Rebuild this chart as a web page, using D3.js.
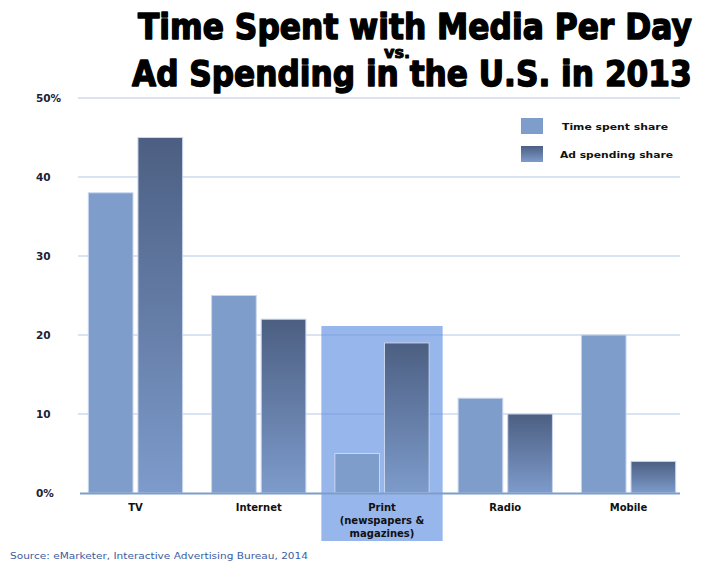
<!DOCTYPE html>
<html>
<head>
<meta charset="utf-8">
<script src="https://cdn.jsdelivr.net/npm/d3@7"></script>
<style>
  html, body { margin: 0; padding: 0; background: #fff; }
  svg { display: block; }
</style>
</head>
<body>
<svg id="chart" width="701" height="562"></svg>
<script>
// Share of daily media time vs. share of ad spending, U.S. 2013 (%)
const categories = ["TV", "Internet", "Print", "Radio", "Mobile"];
const categoryLabels = [["TV"], ["Internet"], ["Print", "(newspapers &", "magazines)"], ["Radio"], ["Mobile"]];
const timeSpentShare = [38, 25, 5, 12, 20];
const adSpendingShare = [45, 22, 19, 10, 4];
const seriesNames = ["Time spent share", "Ad spending share"];
const yTicks = [0, 10, 20, 30, 40, 50];
const yTickLabels = ["0%", "10", "20", "30", "40", "50%"];
const highlighted = "Print";

const svg = d3.select("#chart");
const font = "'DejaVu Sans', Verdana, sans-serif";

const x = d3.scaleBand().domain(categories).range([76, 688]).paddingInner(0.235).paddingOuter(0.1);
const xSeries = d3.scaleBand().domain(seriesNames).range([0, x.bandwidth()]).paddingInner(0.1);
const y = d3.scaleLinear().domain([0, 50]).range([493, 98]);

// gradient for the ad-spending bars
const defs = svg.append("defs");
["adGrad", "adGradLeg"].forEach(id => {
  const g = defs.append("linearGradient").attr("id", id).attr("x1", 0).attr("x2", 0).attr("y1", 0).attr("y2", 1);
  g.append("stop").attr("offset", "0%").attr("stop-color", "#4c5f82");
  g.append("stop").attr("offset", "100%").attr("stop-color", "#7d9bcb");
});

// highlight box behind the print category
const hx = x(highlighted) - x.step() * x.paddingInner() / 2;
svg.append("rect")
  .attr("x", hx + 1).attr("y", 326)
  .attr("width", x.step() - 2).attr("height", 541 - 326)
  .attr("fill", "#96b6ec");

// gridlines
svg.append("g").selectAll("line").data(yTicks.filter(d => d > 0)).join("line")
  .attr("x1", 78).attr("x2", 680)
  .attr("y1", d => y(d)).attr("y2", d => y(d))
  .attr("stroke", "rgba(110,145,205,0.5)").attr("stroke-width", 1.2);

// y tick labels
svg.append("g").selectAll("text").data(yTicks).join("text")
  .attr("x", 36).attr("y", d => y(d) + 4)
  .attr("font-family", font).attr("font-size", 10.5).attr("font-weight", "bold")
  .attr("fill", "#1c2233")
  .text((d, i) => yTickLabels[i]);

// bars
const groups = svg.append("g").selectAll("g").data(categories).join("g")
  .attr("transform", d => `translate(${x(d)},0)`);

groups.append("rect")
  .attr("x", xSeries(seriesNames[0]))
  .attr("y", (d, i) => y(timeSpentShare[i]))
  .attr("width", xSeries.bandwidth())
  .attr("height", (d, i) => y(0) - y(timeSpentShare[i]))
  .attr("fill", "#7f9dcb")
  .attr("stroke", "#c9d6ee").attr("stroke-width", 1);

groups.append("rect")
  .attr("x", xSeries(seriesNames[1]))
  .attr("y", (d, i) => y(adSpendingShare[i]))
  .attr("width", xSeries.bandwidth())
  .attr("height", (d, i) => y(0) - y(adSpendingShare[i]))
  .attr("fill", "url(#adGrad)")
  .attr("stroke", "#c9d6ee").attr("stroke-width", 1);

// baseline
svg.append("line")
  .attr("x1", 80).attr("x2", 680).attr("y1", y(0) + 0.5).attr("y2", y(0) + 0.5)
  .attr("stroke", "#7f9dcb").attr("stroke-width", 2);

// category labels
groups.each(function (d, i) {
  const g = d3.select(this);
  const t = g.append("text")
    .attr("x", x.bandwidth() / 2).attr("y", 511)
    .attr("text-anchor", "middle")
    .attr("font-family", font).attr("font-size", 10).attr("font-weight", "bold")
    .attr("fill", "#111");
  categoryLabels[i].forEach((line, k) => {
    t.append("tspan").attr("x", x.bandwidth() / 2).attr("dy", k === 0 ? 0 : 13).text(line);
  });
});

// legend
const legend = svg.append("g");
legend.append("rect").attr("x", 521).attr("y", 118).attr("width", 22).attr("height", 16).attr("fill", "#7f9dcb");
legend.append("rect").attr("x", 521).attr("y", 146).attr("width", 22).attr("height", 16).attr("fill", "url(#adGradLeg)");
legend.selectAll("text").data(seriesNames).join("text")
  .attr("x", (d, i) => i === 0 ? 562 : 560)
  .attr("y", (d, i) => 130 + i * 28)
  .attr("font-family", font).attr("font-size", 9.5).attr("font-weight", "bold")
  .attr("fill", "#111")
  .attr("textLength", (d, i) => i === 0 ? 106 : 113)
  .attr("lengthAdjust", "spacingAndGlyphs")
  .text(d => d);

// title: heavy lines fitted to a fixed width, stretched vertically to keep the cap height
const title = svg.append("g").attr("font-family", font).attr("font-weight", "bold").attr("fill", "#000")
  .attr("stroke", "#000").attr("stroke-linejoin", "round");

function fittedLine(text, x0, baseline, width, size) {
  const t = title.append("text").attr("x", 0).attr("y", 0).attr("font-size", size).text(text);
  const natural = t.node().getComputedTextLength();
  const fs = size * width / natural;
  const sy = size / fs;
  t.attr("font-size", fs).attr("stroke-width", 1.5 / sy)
    .attr("transform", `translate(${x0},${baseline}) scale(1,${sy})`);
}
fittedLine("Time Spent with Media Per Day", 138, 39, 554, 35);
fittedLine("Ad Spending in the U.S. in 2013", 132, 86, 560, 35);
title.append("text").attr("x", 397).attr("y", 58).attr("text-anchor", "middle")
  .attr("font-size", 16).attr("stroke-width", 1)
  .text("vs.");

// source note
svg.append("text").attr("x", 10).attr("y", 559)
  .attr("font-family", font).attr("font-size", 9.5)
  .attr("fill", "#3d5da0")
  .attr("textLength", 298).attr("lengthAdjust", "spacingAndGlyphs")
  .text("Source: eMarketer, Interactive Advertising Bureau, 2014");
</script>
</body>
</html>
